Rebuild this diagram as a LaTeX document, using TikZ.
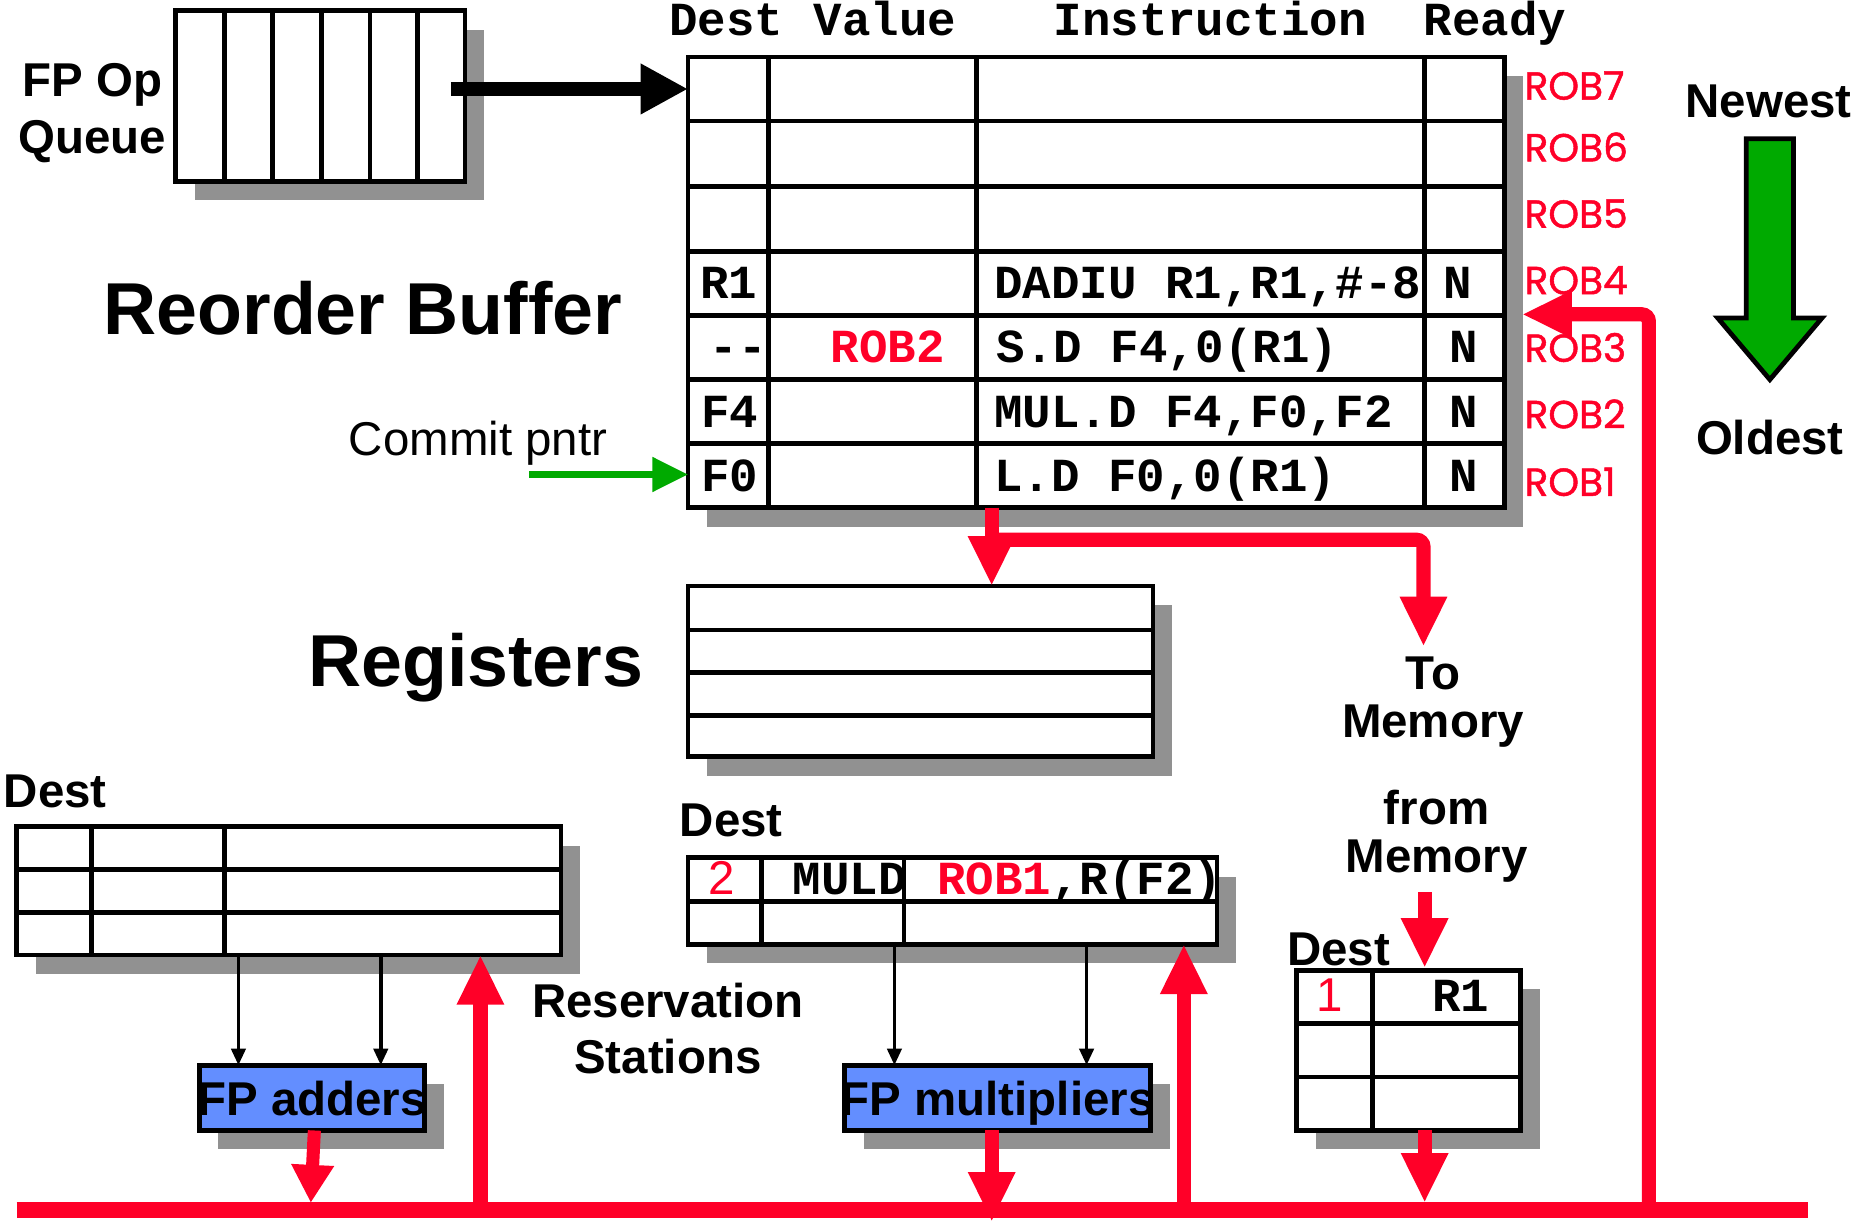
\documentclass[tikz,border=0pt]{standalone}
\usepackage{fontspec}
\setmainfont{Liberation Sans}
\newfontfamily\courfont{Liberation Mono}
\newfontfamily\robfont{Poppins}[FakeBold=1.2]
\usetikzlibrary{arrows.meta}
\definecolor{myred}{RGB}{255,0,40}
\definecolor{mygreen}{RGB}{0,170,0}
\definecolor{myblue}{RGB}{99,142,255}
\definecolor{shadowgray}{RGB}{145,145,145}
\newcommand\szA{\fontsize{40}{48}\selectfont}
\newcommand\szB{\fontsize{62}{72}\selectfont}
\begin{document}
\begin{tikzpicture}[x=1pt,y=-1pt,
  box/.style={draw=black,line width=4pt,fill=white,inner sep=0pt,outer sep=0pt},
  unit/.style={draw=black,line width=4pt,fill=myblue,inner sep=0pt,outer sep=0pt},
  tline/.style={line width=4pt},
  shadowfill/.style={fill=shadowgray},
  lbl/.style={inner sep=0pt,anchor=base,font=\szA\bfseries},
  twolbl/.style={inner sep=0pt,anchor=center,align=center,font=\szA\bfseries},
  biglbl/.style={inner sep=0pt,anchor=base,font=\szB\bfseries},
  dlbl/.style={inner sep=0pt,anchor=base west,font=\szA\bfseries},
  clbl/.style={inner sep=0pt,anchor=base west,font=\courfont\szA\bfseries},
  rlbl/.style={inner sep=0pt,anchor=base west,font=\robfont\fontsize{33}{40}\selectfont,text=myred},
  redarr/.style={draw=myred,line width=12pt,-{Triangle[length=42pt,width=37pt]}},
  thinarr/.style={draw=black,line width=3pt,-{Triangle[length=14pt,width=12pt]}}
]
\useasboundingbox (0,0) rectangle (1568,1031);

% ---------- FP Op Queue ----------
\fill[shadowfill] (164,25) rectangle (408,169);
\node[box,minimum width=244pt,minimum height=144pt] (queue) at (270,81) {};
\foreach \x in {189,230,271,312,352} \draw[tline] (\x,9) -- (\x,153);
\node[twolbl] (fpop) at (78,95) {FP Op\\Queue};

% ---------- Reorder buffer ----------
\fill[shadowfill] (596,64) rectangle (1284,444);
\node[box,minimum width=688pt,minimum height=380pt] (rob) at (924,238) {};
\foreach \x in {648,823,1201} \draw[tline] (\x,48) -- (\x,428);
\foreach \y in {102,157,212,266,320,374} \draw[tline] (580,\y) -- (1268,\y);

\node[clbl] (hdest) at (564,30) {Dest};
\node[clbl] (hval) at (686,30) {Value};
\node[clbl] (hins) at (888,30) {Instruction};
\node[clbl] (hrdy) at (1200,30) {Ready};

\node[clbl] (d4) at (590,252) {R1};
\node[clbl] (i4) at (838,252) {DADIU R1,R1,\#-8};
\node[clbl] (r4) at (1217,252) {N};
\node[clbl] (d3) at (598,306) {--};
\node[clbl,text=myred] (v3) at (700,306) {ROB2};
\node[clbl] (i3) at (840,306) {S.D F4,0(R1)};
\node[clbl] (r3) at (1222,306) {N};
\node[clbl] (d2) at (591,360) {F4};
\node[clbl] (i2) at (838,360) {MUL.D F4,F0,F2};
\node[clbl] (r2) at (1222,360) {N};
\node[clbl] (d1) at (591,414) {F0};
\node[clbl] (i1) at (838,414) {L.D F0,0(R1)};
\node[clbl] (r1) at (1222,414) {N};

\node[rlbl] (rob7) at (1285,84) {ROB7};
\node[rlbl] (rob6) at (1285,136) {ROB6};
\node[rlbl] (rob5) at (1285,192) {ROB5};
\node[rlbl] (rob4) at (1285,248) {ROB4};
\node[rlbl] (rob3) at (1285,305) {ROB3};
\node[rlbl] (rob2) at (1285,361) {ROB2};
\node[rlbl] (rob1) at (1285,418) {ROB1};

\node[biglbl] (robtitle) at (306,282) {Reorder Buffer};
\node[inner sep=0pt,anchor=base,font=\szA] (commit) at (403,384) {Commit pntr};

% queue -> ROB
\coordinate (qstart) at (380,75);
\coordinate (robin) at (580,75);
\draw[line width=12pt,-{Triangle[length=40pt,width=40pt]}] (qstart) -- (robin);
% commit pointer
\coordinate (cstart) at (446,400);
\coordinate (cend) at (580,400);
\draw[draw=mygreen,line width=6pt,-{Triangle[length=30pt,width=28pt]}] (cstart) -- (cend);

% Newest / Oldest
\node[lbl] (newest) at (1491,99) {Newest};
\node[lbl] (oldest) at (1492,383) {Oldest};
\draw[fill=mygreen,draw=black,line width=4pt,line join=miter]
  (1472,117) -- (1512,117) -- (1512,268) -- (1536,268) -- (1492,320) -- (1448,268) -- (1472,268) -- cycle;

% ---------- Registers ----------
\fill[shadowfill] (596,510) rectangle (988,654);
\node[box,minimum width=392pt,minimum height=144pt] (regs) at (776,566) {};
\foreach \y in {531,567,603} \draw[tline] (580,\y) -- (972,\y);
\node[biglbl] (regtitle) at (401,579) {Registers};

\node[twolbl] (tomem) at (1208,592) {To\\[-8pt]Memory};

% ---------- Left reservation station ----------
\node[dlbl] (destA) at (3,681) {Dest};
\fill[shadowfill] (30,713) rectangle (489,821);
\node[box,minimum width=459pt,minimum height=108pt] (rsA) at (243.5,751) {};
\foreach \y in {733,769} \draw[tline] (14,\y) -- (473,\y);
\foreach \x in {77,189} \draw[tline] (\x,697) -- (\x,805);

\fill[shadowfill] (184,914) rectangle (374,969);
\node[unit,minimum width=190pt,minimum height=55pt] (add) at (263,925.5) {};
\node[lbl] (addlbl) at (263,940) {FP adders};

\draw[thinarr] (201,805) -- (201,898);
\draw[thinarr] (321,805) -- (321,898);

\node[twolbl] (resv) at (563,867) {Reservation\\[-1pt]Stations};

% ---------- Middle reservation station ----------
\node[dlbl] (destB) at (573,705) {Dest};
\fill[shadowfill] (596,739) rectangle (1042,812);
\node[box,minimum width=446pt,minimum height=73pt] (rsB) at (803,759.5) {};
\node[inner sep=0pt,anchor=base,font=\szA,text=myred] (two) at (608,754) {2};
\node[clbl] (muld) at (668,754) {MULD};
\node[clbl] (ops) at (790,754) {\textcolor{myred}{ROB1},R(F2)};
\draw[tline] (580,760) -- (1026,760);
\foreach \x in {642,762} \draw[tline] (\x,723) -- (\x,796);

\fill[shadowfill] (728,914) rectangle (986,969);
\node[unit,minimum width=258pt,minimum height=55pt] (mul) at (841,925.5) {};
\node[lbl] (mullbl) at (841,940) {FP multipliers};

\draw[thinarr] (754,794) -- (754,898);
\draw[thinarr] (916,794) -- (916,898);

% ---------- Load buffer ----------
\node[twolbl] (frommem) at (1211,705) {from\\[-8pt]Memory};
\node[dlbl] (destC) at (1085,814) {Dest};
\fill[shadowfill] (1109,834) rectangle (1298,969);
\node[box,minimum width=189pt,minimum height=135pt] (ldb) at (1187.5,885.5) {};
\foreach \y in {863,908} \draw[tline] (1093,\y) -- (1282,\y);
\draw[tline] (1157,818) -- (1157,953);
\node[inner sep=0pt,anchor=base,font=\szA,text=myred] (one) at (1121,853) {1};
\node[clbl] (ldr1) at (1207,853) {R1};

% ---------- Red data paths ----------
\coordinate (robout) at (836,428);
\coordinate (regin) at (836,494);
\coordinate (brk) at (836,455);
\coordinate (memout) at (1200,545);
\draw[redarr] (robout) -- (regin);
\draw[redarr,rounded corners=6pt] (brk) -| (memout);

\coordinate (busL) at (14,1020);
\coordinate (busR) at (1524,1020);
\draw[draw=myred,line width=13pt] (busL) -- (busR);

\coordinate (addout) at (265,953);
\coordinate (addbus) at (262,1014);
\draw[draw=myred,line width=11pt,-{Triangle[length=32pt,width=34pt]}] (addout) -- (addbus);

\coordinate (busA) at (405,1020);
\coordinate (rsAin) at (405,805);
\draw[redarr] (busA) -- (rsAin);

\coordinate (mulout) at (836,953);
\coordinate (mulbus) at (836,1030);
\draw[redarr] (mulout) -- (mulbus);

\coordinate (busB) at (998,1020);
\coordinate (rsBin) at (998,796);
\draw[redarr] (busB) -- (rsBin);

\coordinate (memin) at (1201,752);
\coordinate (ldbin) at (1201,816);
\draw[redarr] (memin) -- (ldbin);

\coordinate (ldbout) at (1201,953);
\coordinate (ldbbus) at (1201,1014);
\draw[redarr] (ldbout) -- (ldbbus);

\coordinate (busC) at (1390,1020);
\coordinate (robfb) at (1283,265);
\draw[redarr,rounded corners=6pt] (busC) |- (robfb);
\end{tikzpicture}
\end{document}
